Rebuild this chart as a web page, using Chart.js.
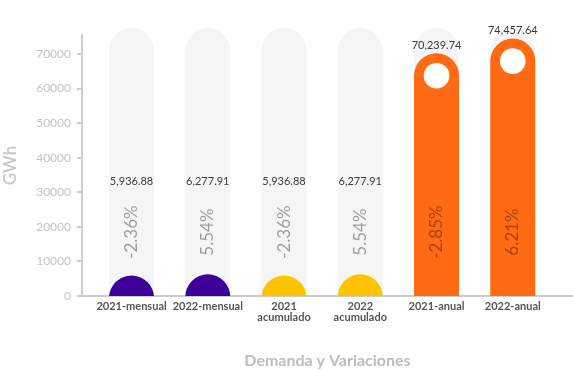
<!DOCTYPE html>
<html>
<head>
<meta charset="utf-8">
<script src="https://cdn.jsdelivr.net/npm/chart.js@4.4.1/dist/chart.umd.min.js"></script>
<style>
  html, body { margin: 0; padding: 0; background: #fff; }
  #wrap { width: 573px; height: 370px; }
</style>
</head>
<body>
<div id="wrap"><canvas id="chart"></canvas></div>
<script>
// Chart data
const categories = ['2021-mensual', '2022-mensual', ['2021', 'acumulado'], ['2022', 'acumulado'], '2021-anual', '2022-anual'];
const demand = [5936.88, 6277.91, 5936.88, 6277.91, 70239.74, 74457.64];
const variation = [-2.36, 5.54, -2.36, 5.54, -2.85, 6.21];
const yTicks = [0, 10000, 20000, 30000, 40000, 50000, 60000, 70000];
const trackValue = 77500;

const barColors = ['#3f0099', '#3f0099', '#ffc300', '#ffc300', '#ff6a13', '#ff6a13'];
const numFmt = new Intl.NumberFormat('en-US', { minimumFractionDigits: 2, maximumFractionDigits: 2 });

// Value labels, rotated variation labels and the white dot in tall bars
const barLabels = {
    id: 'barLabels',
    afterDatasetsDraw(chart) {
        const ctx = chart.ctx;
        const yScale = chart.scales.y;
        const zero = yScale.getPixelForValue(0);
        const meta = chart.getDatasetMeta(0);
        ctx.save();
        meta.data.forEach((bar, i) => {
            const { x, y, width } = bar.getProps(['x', 'y', 'width'], true);

            if (zero - y > width) {
                ctx.beginPath();
                ctx.arc(x, y + width / 2, 12.8, 0, Math.PI * 2);
                ctx.fillStyle = '#ffffff';
                ctx.fill();
            }

            ctx.font = '11px Lato';
            ctx.fillStyle = '#3c3c3c';
            ctx.textAlign = 'center';
            ctx.textBaseline = 'middle';
            ctx.fillText(numFmt.format(demand[i]), x, Math.min(y - 8, yScale.getPixelForValue(33000)));

            ctx.save();
            ctx.translate(x, yScale.getPixelForValue(18500));
            ctx.rotate(-Math.PI / 2);
            ctx.font = '17px Lato';
            ctx.fillStyle = 'rgba(0, 0, 0, 0.36)';
            ctx.fillText(variation[i].toFixed(2) + '%', 0, 0);
            ctx.restore();
        });
        ctx.restore();
    }
};

new Chart(document.getElementById('chart'), {
    type: 'bar',
    data: {
        datasets: [
            {
                label: 'Demanda',
                data: demand.map((v, i) => ({ x: i, y: v })),
                backgroundColor: barColors,
                base: -20000,
                borderRadius: 23,
                clip: 0,
                order: 1
            },
            {
                label: 'track',
                data: demand.map((v, i) => ({ x: i, y: trackValue })),
                backgroundColor: '#f5f5f5',
                borderRadius: 23,
                clip: false,
                order: 2
            }
        ]
    },
    options: {
        responsive: true,
        maintainAspectRatio: false,
        animation: false,
        grouped: false,
        categoryPercentage: 0.59,
        barPercentage: 1,
        layout: { padding: { top: 35, right: 0, bottom: 0, left: 0 } },
        plugins: {
            legend: { display: false },
            tooltip: { enabled: false }
        },
        scales: {
            x: {
                type: 'linear',
                offset: false,
                min: -0.65,
                max: 5.79,
                afterBuildTicks: (scale) => {
                    scale.ticks = categories.map((c, i) => ({ value: i }));
                },
                afterFit: (scale) => { scale.height = 74; },
                grid: { display: false, drawTicks: false },
                border: { display: true, color: '#cccccc', width: 2 },
                ticks: {
                    autoSkip: false,
                    maxRotation: 0,
                    padding: 5,
                    color: '#555555',
                    font: { family: 'Lato', size: 11, weight: 'bold', lineHeight: 1.0 },
                    callback: (value) => categories[value]
                },
                title: {
                    display: true,
                    text: 'Demanda y Variaciones',
                    color: '#bdbdbd',
                    font: { family: 'Lato', size: 16, weight: 'bold' },
                    padding: { top: 8, bottom: 0 }
                }
            },
            y: {
                min: 0,
                max: 75500,
                afterBuildTicks: (scale) => {
                    scale.ticks = yTicks.map(v => ({ value: v }));
                },
                afterFit: (scale) => { scale.width = 82; },
                grid: { drawOnChartArea: false, drawTicks: true, tickLength: 5, color: '#cccccc', lineWidth: 2 },
                border: { display: true, color: '#cccccc', width: 2 },
                ticks: {
                    padding: 6,
                    color: '#c4c4c4',
                    font: { family: 'Lato', size: 12 },
                    callback: (value) => String(value)
                },
                title: {
                    display: true,
                    text: 'GWh',
                    color: '#c8c8c8',
                    font: { family: 'Lato', size: 17, weight: '600' },
                    padding: { top: 0, bottom: 0 }
                }
            }
        }
    },
    plugins: [barLabels]
});
</script>
</body>
</html>
